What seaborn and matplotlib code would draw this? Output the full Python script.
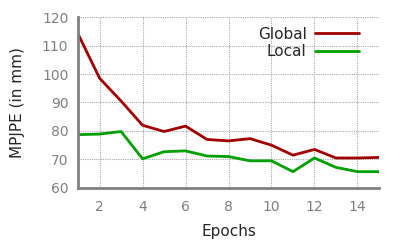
import matplotlib
matplotlib.use('Agg')
import matplotlib.pyplot as plt
import seaborn as sns
import pandas as pd

epochs = list(range(1, 16))
global_mpjpe = [114, 98.5, 90.5, 82, 79.8, 81.7, 77, 76.5, 77.3, 75, 71.5, 73.5, 70.5, 70.5, 70.7]
local_mpjpe = [78.7, 78.9, 79.8, 70.2, 72.7, 73, 71.2, 71, 69.5, 69.5, 65.7, 70.5, 67.2, 65.7, 65.7]

df = pd.DataFrame({
    'Epochs': epochs * 2,
    'MPJPE': global_mpjpe + local_mpjpe,
    'Model': ['Global'] * 15 + ['Local'] * 15,
})

sns.set_style('white')
plt.rcParams['font.family'] = ['DejaVu Sans']

fig = plt.figure(figsize=(4.07, 2.44), dpi=100)
ax = fig.add_axes([0.192, 0.23, 0.739, 0.70])

sns.lineplot(data=df, x='Epochs', y='MPJPE', hue='Model',
             palette={'Global': '#a00000', 'Local': '#00a000'},
             linewidth=2, ax=ax)

ax.set_xlim(1, 15)
ax.set_ylim(60, 120)
ax.set_xticks(range(2, 16, 2))
ax.set_yticks(range(60, 121, 10))
ax.grid(True, color='#aaaaaa', linestyle=(0, (1, 1)), linewidth=0.8)

for s in ['top', 'right']:
    ax.spines[s].set_visible(False)
for s in ['left', 'bottom']:
    ax.spines[s].set_color('#808080')
    ax.spines[s].set_linewidth(2)

ax.tick_params(axis='both', direction='in', colors='#808080', labelcolor='#808080',
               labelsize=10, width=2, length=6, pad=7)
ax.tick_params(axis='x', pad=9)
ax.set_xlabel('Epochs', fontsize=11, labelpad=7)
ax.set_ylabel('MPJPE (in mm)', fontsize=11, labelpad=12)

leg = ax.legend(loc='upper right', frameon=False, markerfirst=False, fontsize=11,
                handlelength=2.9, handletextpad=0.55, labelspacing=0.15,
                borderaxespad=0.0, bbox_to_anchor=(0.955, 0.98))

fig.savefig('out.png', dpi=100)
